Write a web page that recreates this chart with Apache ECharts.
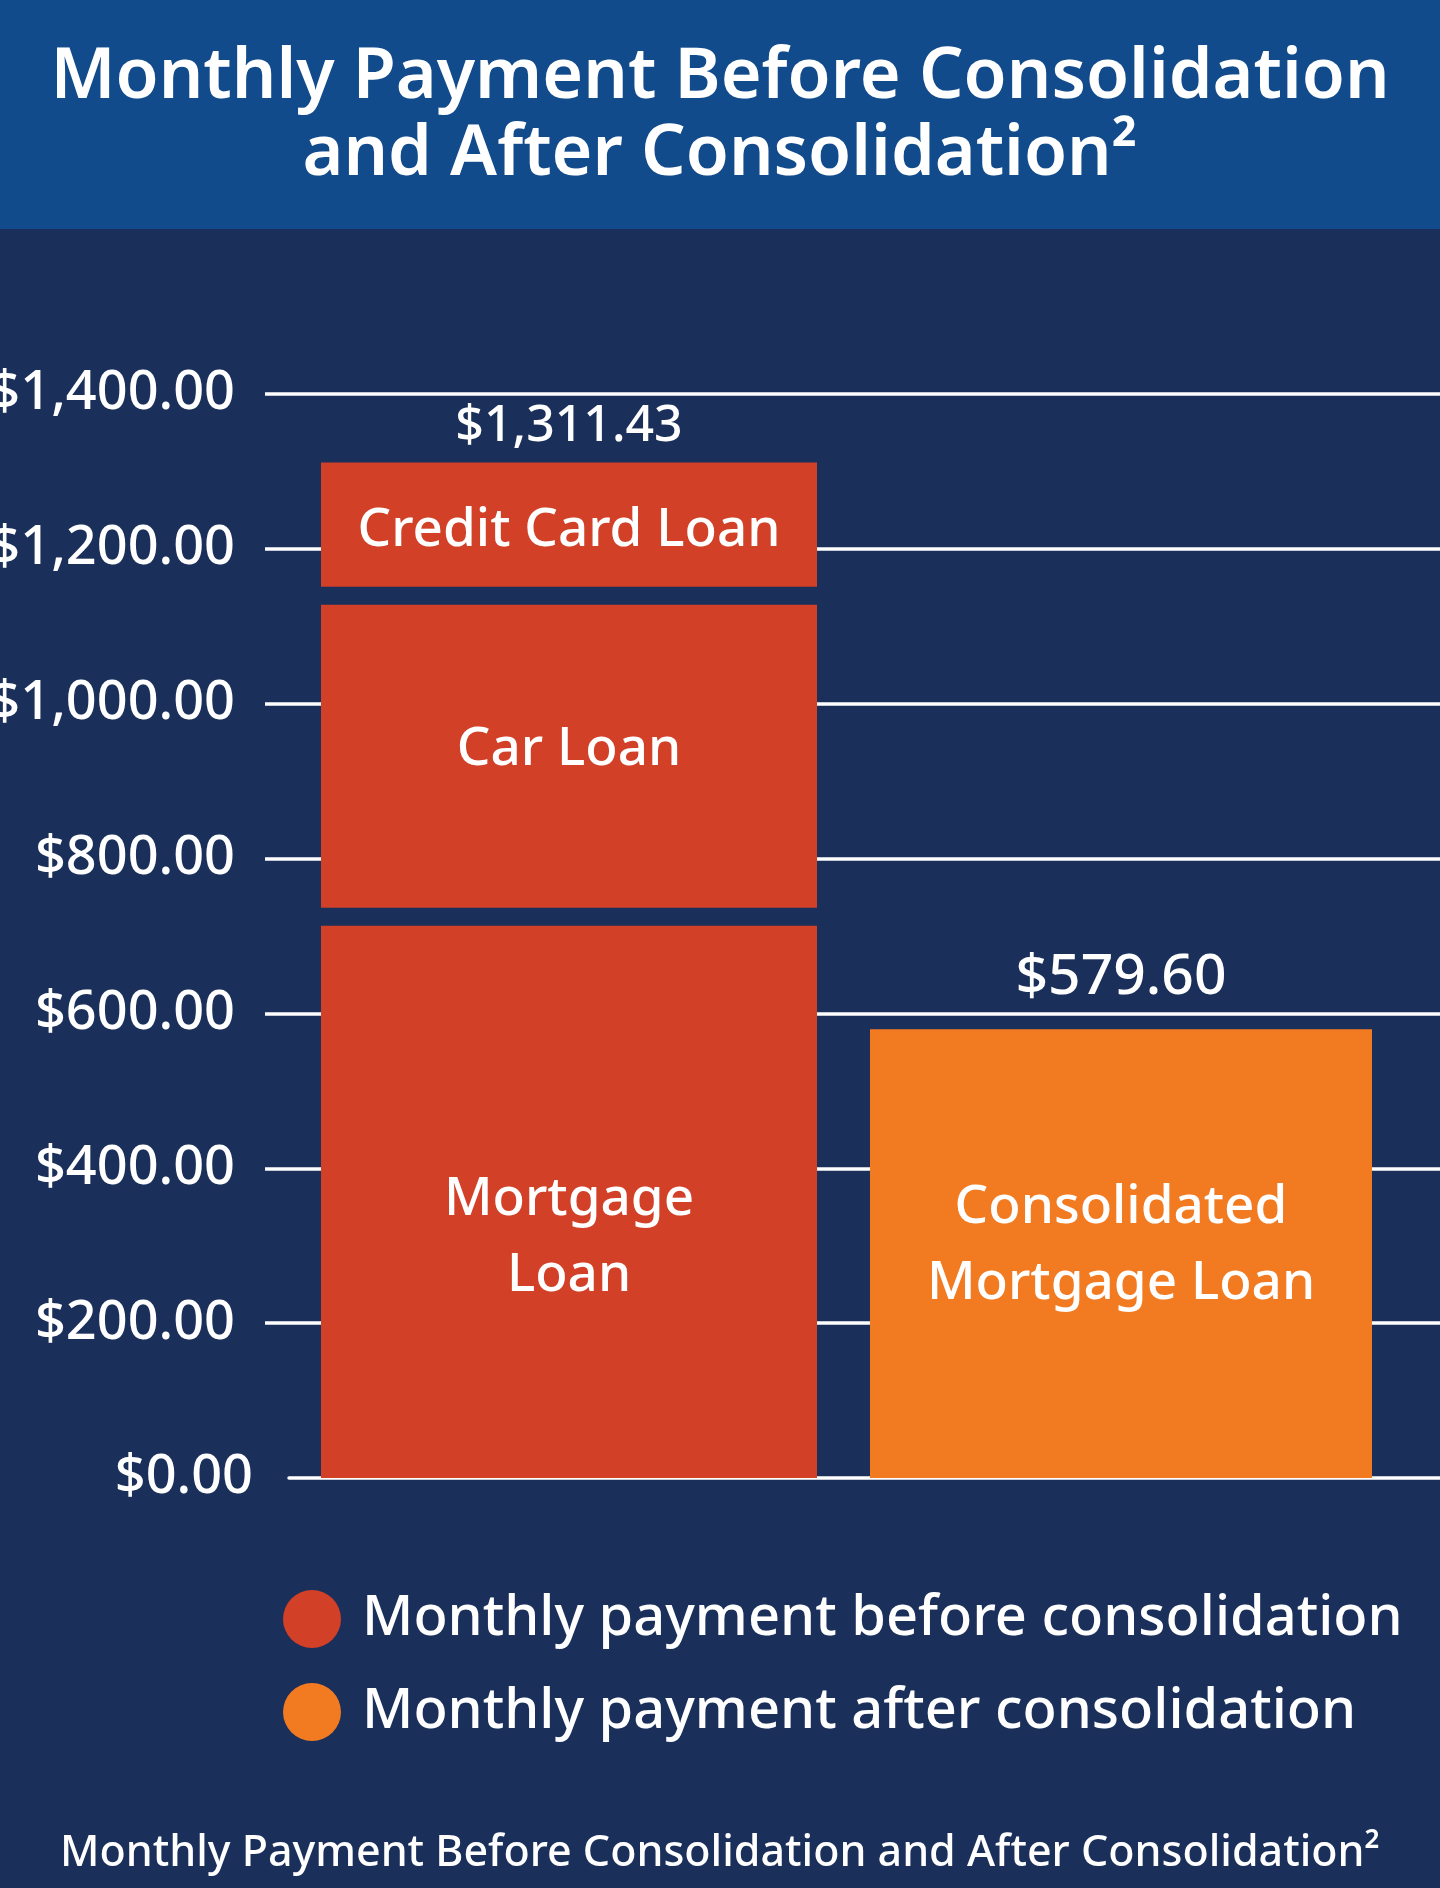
<!DOCTYPE html>
<html>
<head>
<meta charset="utf-8">
<title>Monthly Payment Before and After Consolidation</title>
<script src="https://cdn.jsdelivr.net/npm/echarts@6/dist/echarts.min.js"></script>
<style>
  html, body { margin: 0; padding: 0; background: #1a2f5a; }
  #chart-container { width: 1440px; height: 1888px; }
</style>
</head>
<body>
<div id="chart-container"></div>
<script>
// data
const categories = ['Before consolidation', 'After consolidation'];
const beforeLabels = ['Mortgage\nLoan', 'Car Loan', 'Credit Card Loan'];
const beforeValues = [725, 414.5, 171.93];
const afterLabels = ['Consolidated\nMortgage Loan'];
const afterValues = [579.6];
const totals = [1311.43, 579.6];
const legendNames = ['Monthly payment before consolidation', 'Monthly payment after consolidation'];
const yMin = 0, yMax = 1400, yStep = 200;

const FONT = '"Noto Sans", "Open Sans", sans-serif';
const BG = '#1a2f5a';
const HEADER = '#124b8b';
const RED = '#d14027';
const ORANGE = '#f27b22';
const GRID_TOP = 394, GRID_BOTTOM = 410;

var dom = document.getElementById('chart-container');
var myChart = echarts.init(dom, null, { renderer: 'canvas' });

function money(v) {
  return '$' + Number(v).toLocaleString('en-US', { minimumFractionDigits: 2, maximumFractionDigits: 2 });
}

// turn values into [category, from, to] segments
function stackSegments(catIndex, values) {
  let base = 0;
  return values.map(v => {
    const seg = [catIndex, base, base + v];
    base += v;
    return seg;
  });
}

// draws one stacked piece, with a dark gap between pieces
function segmentRenderer(labels, barWidth, color, labelOffsets) {
  const halfGap = 9;
  return function (params, api) {
    const c = api.value(0);
    const lo = api.coord([c, api.value(1)]);
    const hi = api.coord([c, api.value(2)]);
    const last = params.dataIndex === labels.length - 1;
    const top = hi[1] + (last ? 0 : halfGap);
    const bottom = lo[1] - (params.dataIndex === 0 ? 0 : halfGap);
    return {
      type: 'rect',
      shape: { x: lo[0] - barWidth / 2, y: top, width: barWidth, height: bottom - top },
      style: { fill: color },
      textContent: {
        style: {
          text: labels[params.dataIndex],
          fill: '#ffffff',
          fontSize: 53,
          fontWeight: 500,
          fontFamily: FONT,
          lineHeight: 76,
          align: 'center'
        }
      },
      textConfig: { position: 'inside', offset: [0, labelOffsets[params.dataIndex]] }
    };
  };
}

const totalFontSizes = [50, 57];
const totalDistances = [10, 22];

// all grids share the same vertical extent; labels may run off the left edge
const gridBase = { top: GRID_TOP, bottom: GRID_BOTTOM, containLabel: false, outerBoundsMode: 'none' };

var option = {
  backgroundColor: BG,
  animation: false,
  graphic: [
    { type: 'rect', left: 0, top: 0, z: -10, shape: { width: 1440, height: 229 }, style: { fill: HEADER } }
  ],
  title: [
    {
      text: 'Monthly Payment Before Consolidation\nand After Consolidation²',
      left: 'center',
      top: 40,
      padding: 0,
      textStyle: { color: '#fff', fontSize: 70, fontWeight: 600, fontFamily: FONT, lineHeight: 77 }
    },
    {
      text: 'Monthly Payment Before Consolidation and After Consolidation²',
      left: 'center',
      top: 1829,
      padding: 0,
      textStyle: { color: '#fff', fontSize: 43, fontWeight: 500, fontFamily: FONT, lineHeight: 50 }
    }
  ],
  legend: {
    data: legendNames,
    orient: 'vertical',
    left: 278,
    top: 1585,
    icon: 'circle',
    itemWidth: 58,
    itemHeight: 58,
    itemGap: 35,
    selectedMode: false,
    textStyle: { color: '#fff', fontSize: 56, fontWeight: 500, fontFamily: FONT, padding: [0, 0, 0, 16] }
  },
  grid: [
    Object.assign({ left: 265, right: 0 }, gridBase),
    Object.assign({ left: 293, right: 43 }, gridBase),
    Object.assign({ left: 289, right: 0 }, gridBase)
  ],
  xAxis: [
    { gridIndex: 0, type: 'value', min: 0, max: 1, show: false },
    { gridIndex: 1, type: 'category', data: categories, show: false },
    {
      gridIndex: 2, type: 'value', min: 0, max: 1,
      axisLine: { show: true, lineStyle: { color: '#fff', width: 3.5 } },
      axisTick: { show: false }, axisLabel: { show: false }, splitLine: { show: false }
    }
  ],
  yAxis: [
    {
      gridIndex: 0, type: 'value', min: yMin, max: yMax, interval: yStep,
      axisLine: { show: false }, axisTick: { show: false },
      axisLabel: {
        margin: 30, color: '#fff', fontSize: 54, fontWeight: 500, fontFamily: FONT,
        formatter: v => (v === 0 ? '' : money(v))
      },
      // first line (the zero) is drawn by the third grid
      splitLine: { lineStyle: { color: ['transparent', '#fff', '#fff', '#fff', '#fff', '#fff', '#fff', '#fff'], width: 3.5 } }
    },
    { gridIndex: 1, type: 'value', min: yMin, max: yMax, interval: yStep, show: false },
    {
      gridIndex: 2, type: 'value', min: yMin, max: yMax, interval: yMax,
      axisLine: { show: false }, axisTick: { show: false }, splitLine: { show: false },
      axisLabel: {
        margin: 36, color: '#fff', fontSize: 54, fontWeight: 500, fontFamily: FONT,
        formatter: v => (v === 0 ? money(v) : '')
      }
    }
  ],
  series: [
    {
      name: legendNames[0],
      type: 'custom',
      xAxisIndex: 1,
      yAxisIndex: 1,
      itemStyle: { color: RED },
      encode: { x: 0, y: [1, 2] },
      data: stackSegments(0, beforeValues),
      renderItem: segmentRenderer(beforeLabels, 496, RED, [36, -6, 6])
    },
    {
      name: legendNames[1],
      type: 'custom',
      xAxisIndex: 1,
      yAxisIndex: 1,
      itemStyle: { color: ORANGE },
      encode: { x: 0, y: [1, 2] },
      data: stackSegments(1, afterValues),
      renderItem: segmentRenderer(afterLabels, 502, ORANGE, [-8])
    },
    {
      name: 'Total',
      type: 'scatter',
      xAxisIndex: 1,
      yAxisIndex: 1,
      symbolSize: 1,
      silent: true,
      itemStyle: { color: 'rgba(0,0,0,0)', opacity: 1 },
      data: totals.map((v, i) => ({
        value: v,
        label: { fontSize: totalFontSizes[i], distance: totalDistances[i] }
      })),
      label: {
        show: true,
        position: 'top',
        color: '#fff',
        opacity: 1,
        fontWeight: 500,
        fontFamily: FONT,
        formatter: p => money(p.value)
      }
    }
  ]
};

myChart.setOption(option);
window.addEventListener('resize', myChart.resize);
</script>
</body>
</html>
